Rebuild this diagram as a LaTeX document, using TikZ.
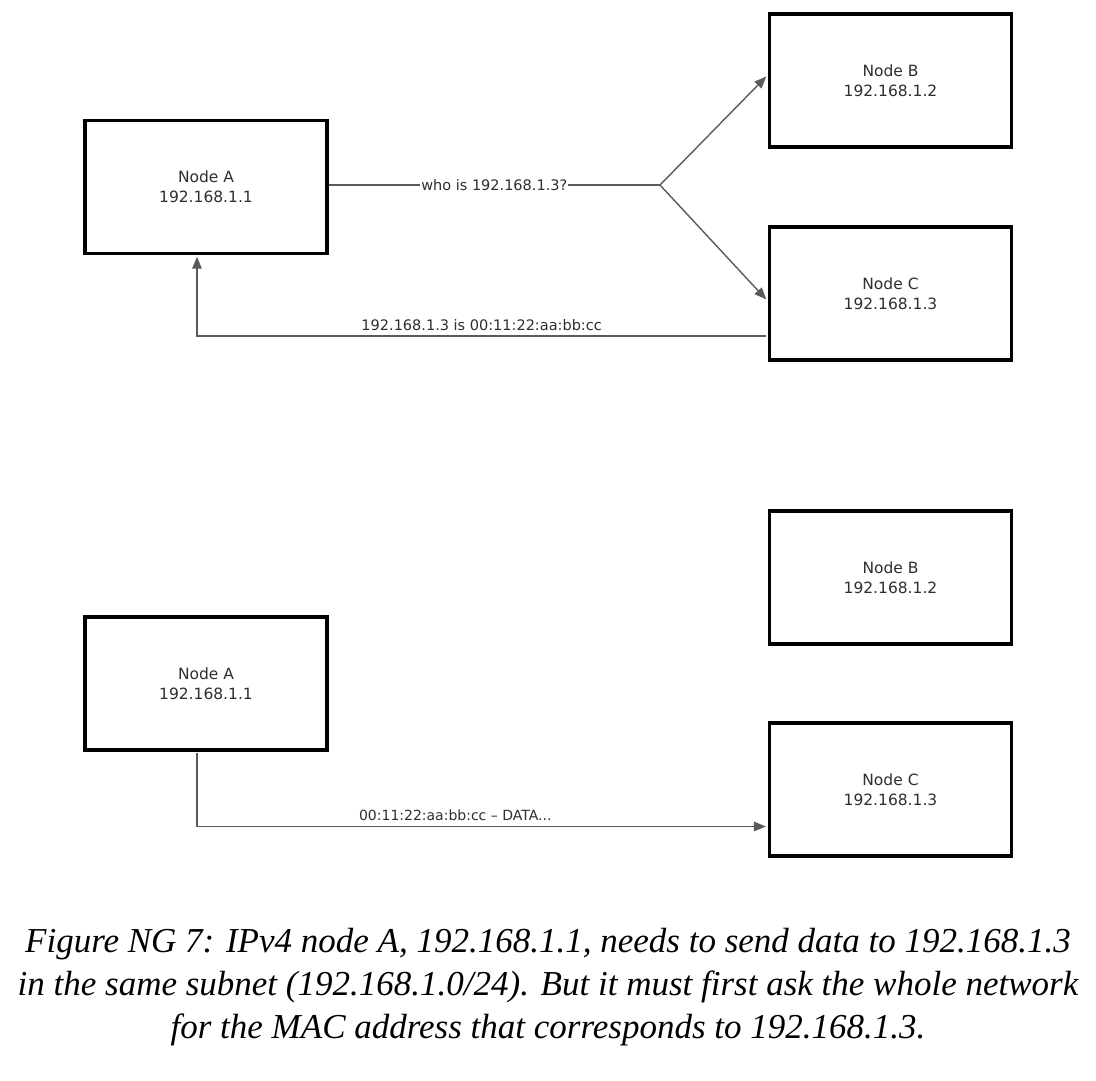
\documentclass[tikz,border=0pt]{standalone}
\usepackage{fontspec}
\setmainfont{DejaVu Sans}
\newfontfamily\capfont{Liberation Serif}
\usetikzlibrary{arrows.meta}
\definecolor{linegray}{HTML}{5A5A5A}
\definecolor{labelgray}{HTML}{2E2E2E}
\begin{document}
\begin{tikzpicture}[x=1pt,y=-1pt,
  box/.style={draw=black,line width=3.2pt,minimum width=242pt,minimum height=133pt,
    font=\fontsize{15.5}{20}\selectfont,text=labelgray,align=center,inner sep=0pt},
  conn/.style={draw=linegray,line width=1.4pt},
  arr/.style={conn,-{Triangle[length=12pt,width=9.5pt]}},
  lbl/.style={font=\fontsize{14.5}{17}\selectfont,text=labelgray,inner sep=1pt}]
\useasboundingbox (0,0) rectangle (1096,1080);
% top scene
\node[box] (A1) at (206,187) {Node A\\192.168.1.1};
\node[box] (B1) at (890.5,80.5) {Node B\\192.168.1.2};
\node[box] (C1) at (890.5,293.5) {Node C\\192.168.1.3};
\coordinate (J) at (660,185);
\draw[conn] (A1.east |- J) -- node[lbl,fill=white]{who is 192.168.1.3?} (J);
\draw[arr] (J) -- ([yshift=4pt,xshift=-1.6pt]B1.west);
\draw[arr] (J) -- ([yshift=-6pt,xshift=-1.6pt]C1.west);
\draw[arr] ([yshift=-42.5pt,xshift=-1.6pt]C1.west) -| node[lbl,above=4pt,pos=0.25]{192.168.1.3 is 00:11:22:aa:bb:cc} ([xshift=-9pt,yshift=-1.6pt]A1.south);
% bottom scene
\node[box] (A2) at (206,683.5) {Node A\\192.168.1.1};
\node[box] (B2) at (890.5,577.5) {Node B\\192.168.1.2};
\node[box] (C2) at (890.5,789.5) {Node C\\192.168.1.3};
\draw[arr] ([xshift=-9pt,yshift=-1.6pt]A2.south) |- node[lbl,font=\fontsize{14}{17}\selectfont,above=4pt,pos=0.727]{00:11:22:aa:bb:cc – DATA...} ([yshift=-37pt,xshift=-2pt]C2.west);
% caption
\node[font=\capfont\itshape\fontsize{35}{43}\selectfont,align=center,inner sep=0pt] (cap) at (548,987.5)
  {Figure NG 7: IPv4 node A, 192.168.1.1, needs to send data to 192.168.1.3\\
   in the same subnet (192.168.1.0/24). But it must first ask the whole network\\
   for the MAC address that corresponds to 192.168.1.3.};
\end{tikzpicture}
\end{document}
